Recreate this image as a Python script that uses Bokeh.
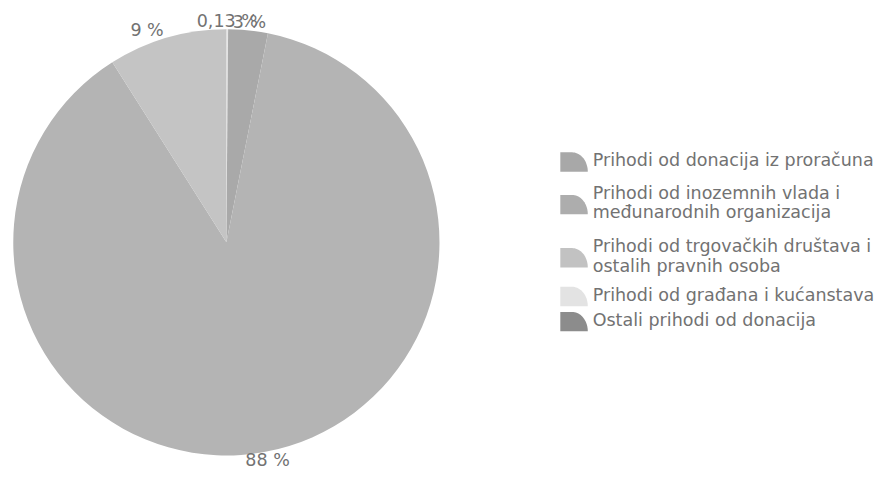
import numpy as np
from bokeh.plotting import figure
from bokeh.models import Range1d, ColumnDataSource
from bokeh.embed import file_html
from bokeh.resources import INLINE
from bokeh.core.properties import value

# ---------------- data ----------------
categories = [
    "Prihodi od donacija iz proračuna",
    "Prihodi od inozemnih vlada i međunarodnih organizacija",
    "Prihodi od trgovačkih društava i ostalih pravnih osoba",
    "Prihodi od građana i kućanstava",
    "Ostali prihodi od donacija",
]
legend_lines = [
    ["Prihodi od donacija iz proračuna"],
    ["Prihodi od inozemnih vlada i", "međunarodnih organizacija"],
    ["Prihodi od trgovačkih društava i", "ostalih pravnih osoba"],
    ["Prihodi od građana i kućanstava"],
    ["Ostali prihodi od donacija"],
]
shares = [0.13, 3, 88, 9, 0]
share_labels = ["0,13 %", "3 %", "88 %", "9 %", ""]

# ---------------- styles ----------------
pie_colors = ["#e6e6e6", "#a9a9a9", "#b4b4b4", "#c4c4c4", "#8a8a8a"]
legend_colors = ["#a8a8a8", "#adadad", "#c2c2c2", "#e3e3e3", "#8c8c8c"]
text_color = "#727272"
FONT = "DejaVu Sans"
FS = "17.5px"

W, H = 877, 472          # figure size in px
REF_W, REF_H = 893, 488  # coordinate frame of the layout


def Y(ref_y):
    return REF_H - ref_y


p = figure(width=W, height=H, x_range=Range1d(0, REF_W), y_range=Range1d(0, REF_H),
           output_backend="svg", toolbar_location=None, min_border=0,
           x_axis_type=None, y_axis_type=None, background_fill_color="white",
           border_fill_color="white")
p.grid.visible = False
p.outline_line_color = None

# ---------------- pie ----------------
cx, cy, R = 230, Y(250), 217
vals = np.array(shares, dtype=float)
frac = vals / vals.sum()
cum_end = np.cumsum(frac)
cum_start = cum_end - frac
a0 = cum_start * 2 * np.pi
a1 = cum_end * 2 * np.pi
keep = vals > 0
src = ColumnDataSource(dict(
    start=(np.pi / 2 - a1)[keep], end=(np.pi / 2 - a0)[keep],
    color=[c for c, k in zip(pie_colors, keep) if k],
    cat=[c for c, k in zip(categories, keep) if k]))
p.wedge(x=cx, y=cy, radius=R, start_angle="start", end_angle="end",
        fill_color="color", line_color=None, source=src)

# labels
mid = (a0 + a1) / 2
lr = R + 12
lx, ly, la, lt = [], [], [], []
for m, lab in zip(mid, share_labels):
    if not lab:
        continue
    s, c = np.sin(m), np.cos(m)
    lx.append(cx + lr * s)
    ly.append(cy + lr * c)
    la.append("right" if s < -0.2 else ("left" if s > 0.2 else "center"))
    lt.append(lab)
p.text(x=lx, y=ly, text=lt, text_align=la, text_baseline="middle",
       text_font=value(FONT), text_font_size=FS, text_color=text_color)

# ---------------- legend (manual) ----------------
line_y = [[165], [199, 219], [254, 274], [304], [330]]
sw_x0, sw_w, sw_h, sw_rx = 570, 28, 20, 16
xs, ys = [], []
tx, ty, tt = [], [], []
t = np.linspace(np.pi / 2, 0, 20)
for lines, yl in zip(legend_lines, line_y):
    yc = sum(yl) / len(yl) + 2
    yb = yc + sw_h / 2
    ax = sw_x0 + sw_w - sw_rx
    px = [sw_x0, sw_x0] + list(ax + sw_rx * np.cos(t))
    py = [yb, yb - sw_h] + list(yb - sw_h * np.sin(t))
    xs.append(px)
    ys.append([Y(v) for v in py])
    for ln, yy in zip(lines, yl):
        tx.append(603)
        ty.append(Y(yy))
        tt.append(ln)
p.patches(xs, ys, fill_color=legend_colors, line_color=None)
p.text(x=tx, y=ty, text=tt, text_align="left", text_baseline="middle",
       text_font=value(FONT), text_font_size=FS, text_color=text_color)

open("out.html", "w").write(file_html(p, INLINE))
